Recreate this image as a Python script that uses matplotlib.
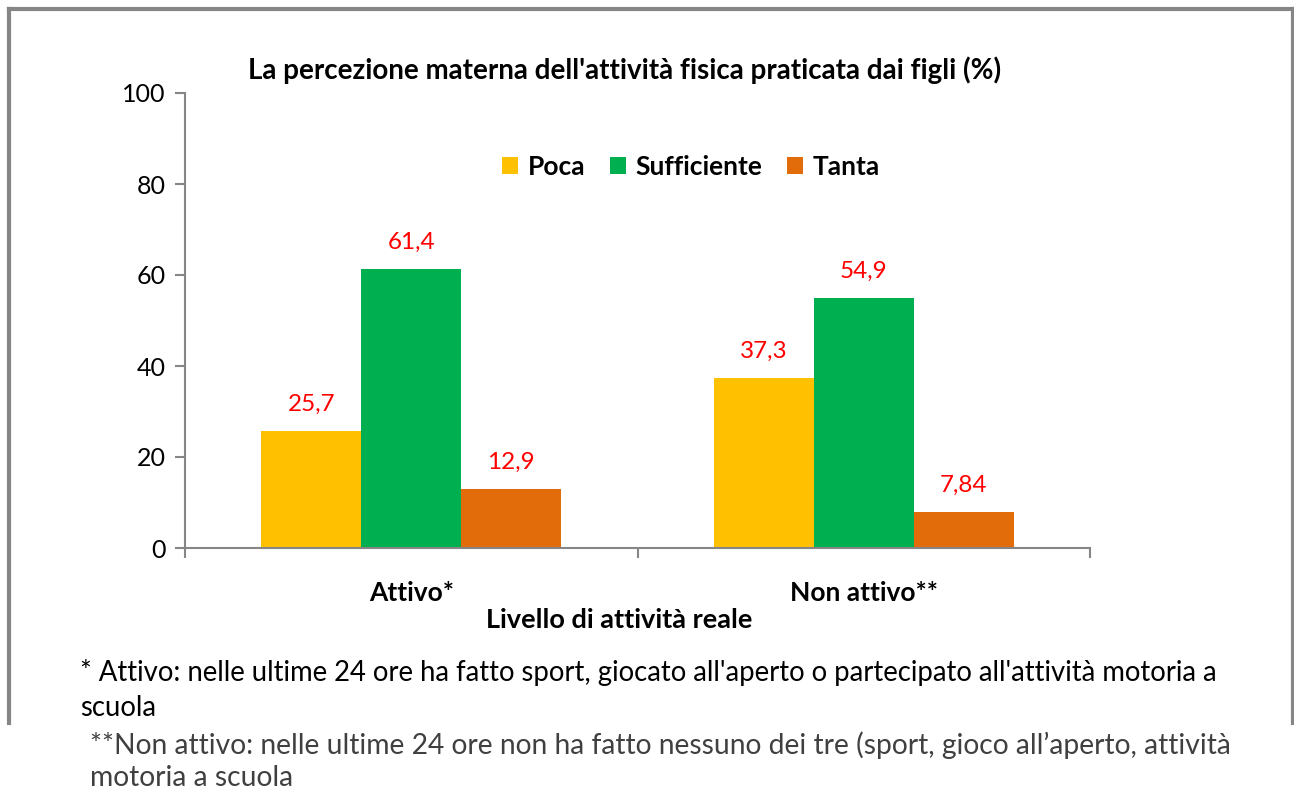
import matplotlib.pyplot as plt
from matplotlib.lines import Line2D

plt.rcParams['font.family'] = ['Lato', 'DejaVu Sans']

categorie = ['Attivo*', 'Non attivo**']
serie = ['Poca', 'Sufficiente', 'Tanta']
poca = [25.7, 37.3]
sufficiente = [61.4, 54.9]
tanta = [12.9, 7.84]
etichette = [['25,7', '37,3'], ['61,4', '54,9'], ['12,9', '7,84']]
colori = ['#FFC000', '#00B050', '#E36C0A']
yticks = [0, 20, 40, 60, 80, 100]

W, H = 1294, 789
fig = plt.figure(figsize=(W / 100, H / 100), dpi=100)
ax = fig.add_axes([185 / W, 1 - 548 / H, (1090 - 185) / W, (548 - 93) / H])

grigio = '#868686'
larg = 0.221
x = range(len(categorie))
for k, (nome, valori) in enumerate(zip(serie, [poca, sufficiente, tanta])):
    pos = [i + (k - 1) * larg for i in x]
    ax.bar(pos, valori, width=larg, color=colori[k], label=nome, zorder=2)
    for p, v, t in zip(pos, valori, etichette[k]):
        ax.annotate(t, (p, v), xytext=(0, 16), textcoords='offset pixels',
                    ha='center', va='bottom', color='#FF0000', fontsize=17.5)

ax.set_xlim(-0.5, 1.5)
ax.set_ylim(0, 100)
ax.set_yticks(yticks)
ax.set_yticklabels([str(v) for v in yticks], fontsize=18)
ax.set_xticks([-0.5, 0.5, 1.5])
ax.set_xticklabels([])
ax.set_xticks(list(x), minor=True)
ax.set_xticklabels(categorie, minor=True, fontsize=19, fontweight='bold')
ax.tick_params(axis='x', which='minor', length=0, pad=24)
ax.tick_params(axis='both', which='major', length=7, width=1.5, color=grigio)
ax.tick_params(axis='y', pad=7)
for s in ['top', 'right']:
    ax.spines[s].set_visible(False)
for s in ['left', 'bottom']:
    ax.spines[s].set_color(grigio)
    ax.spines[s].set_linewidth(1.5)

fig.text(625 / W, 1 - 70 / H, "La percezione materna dell'attività fisica praticata dai figli (%)",
         ha='center', va='center', fontsize=20, fontweight='bold')
fig.text(619 / W, 1 - 620 / H, 'Livello di attività reale', ha='center', va='center',
         fontsize=19.5, fontweight='bold')

leg = fig.legend(loc='center', bbox_to_anchor=(691 / W, 1 - 167 / H), ncol=3, frameon=False,
                 handlelength=0.6, handleheight=0.6, handletextpad=0.35,
                 columnspacing=0.95, prop={'weight': 'bold', 'size': 19})

fig.text(80 / W, 1 - 673 / H,
         "* Attivo: nelle ultime 24 ore ha fatto sport, giocato all'aperto o partecipato all'attività motoria a",
         ha='left', va='center', fontsize=19.8, color='black')
fig.text(80 / W, 1 - 708 / H, 'scuola', ha='left', va='center', fontsize=19.8, color='black')
fig.text(90 / W, 1 - 745 / H,
         '**Non attivo: nelle ultime 24 ore non ha fatto nessuno dei tre (sport, gioco all’aperto, attività',
         ha='left', va='center', fontsize=20.3, color='#404040')
fig.text(90 / W, 1 - 778 / H, 'motoria a scuola', ha='left', va='center', fontsize=20.3, color='#404040')

# cornice del grafico
bordo = dict(color=grigio, linewidth=3, transform=fig.transFigure)
fig.add_artist(Line2D([8.5 / W, 1292.5 / W], [1 - 8.5 / H, 1 - 8.5 / H], **bordo))
fig.add_artist(Line2D([8.5 / W, 8.5 / W], [1 - 8.5 / H, 1 - 723 / H], **bordo))
fig.add_artist(Line2D([1292.5 / W, 1292.5 / W], [1 - 8.5 / H, 1 - 723 / H], **bordo))

fig.savefig('out.png', dpi=100)
